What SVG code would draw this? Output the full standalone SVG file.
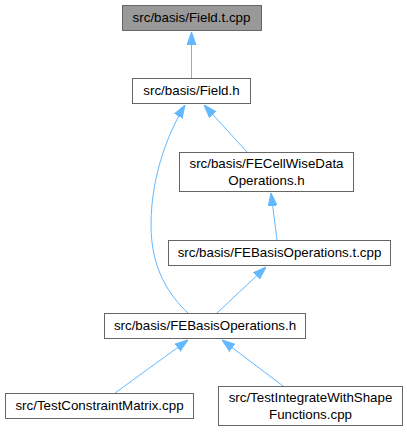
<svg xmlns="http://www.w3.org/2000/svg" width="407" height="432" viewBox="0 0 407 432">
<style>
.node rect{fill:#ffffff;stroke:#666666;stroke-width:1}
.node.root rect{fill:#999999}
.node text{font-family:"Liberation Sans",Arial,Helvetica,sans-serif;font-size:13.33px;fill:#000000;text-anchor:middle}
.edges path{fill:none;stroke:#63b8ff;stroke-width:1;marker-end:url(#arrow)}
</style>
<defs>
<marker id="arrow" viewBox="0 0 13 10" refX="13" refY="5" markerWidth="13" markerHeight="10" markerUnits="userSpaceOnUse" orient="auto">
<path d="M0,0.5 L13,5 L0,9.5 z" fill="#63b8ff" stroke="#63b8ff" stroke-width="1"/>
</marker>
</defs>
<rect width="407" height="432" fill="#ffffff"/>
<g class="edges">
<path d="M191.5,78 L191.5,32"/>
<path d="M247,152 L204,105"/>
<path d="M188,313 C170,296 151,270 151,225 C151,172 171,128 185,105"/>
<path d="M277,240 L271,193"/>
<path d="M217,313 L266,267"/>
<path d="M115,393 L188,340"/>
<path d="M283,386 L222,340"/>
</g>
<g id="node1" class="node root"><rect x="122.5" y="5.5" width="139" height="25"/><text x="191.5" y="22">src/basis/Field.t.cpp</text></g>
<g id="node2" class="node"><rect x="132.5" y="78.5" width="118" height="25"/><text x="191.5" y="95">src/basis/Field.h</text></g>
<g id="node3" class="node"><rect x="179.5" y="152.5" width="174" height="39"/><text x="266.5" y="168">src/basis/FECellWiseData</text><text x="266.5" y="185">Operations.h</text></g>
<g id="node4" class="node"><rect x="168.5" y="240.5" width="222" height="25"/><text x="279.5" y="257">src/basis/FEBasisOperations.t.cpp</text></g>
<g id="node5" class="node"><rect x="104.5" y="313.5" width="201" height="25"/><text x="205" y="330">src/basis/FEBasisOperations.h</text></g>
<g id="node6" class="node"><rect x="5.5" y="393.5" width="188" height="25"/><text x="99.5" y="410">src/TestConstraintMatrix.cpp</text></g>
<g id="node7" class="node"><rect x="218.5" y="386.5" width="184" height="39"/><text x="310.5" y="402">src/TestIntegrateWithShape</text><text x="310.5" y="419">Functions.cpp</text></g>
</svg>
